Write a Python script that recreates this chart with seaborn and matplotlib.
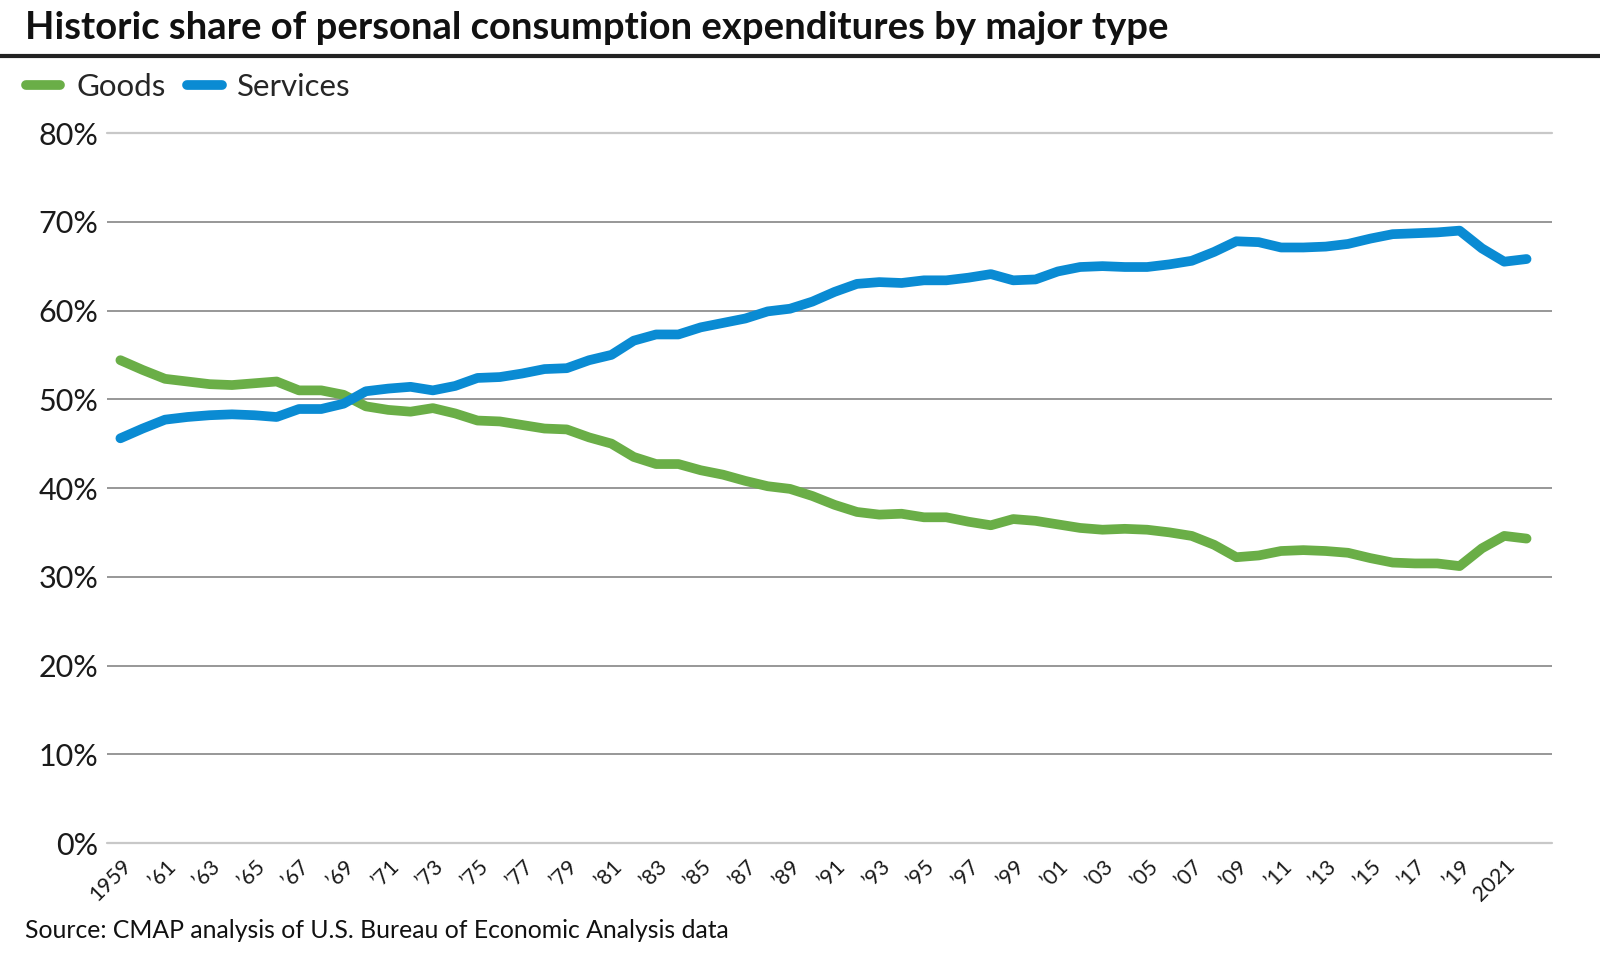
import pandas as pd
import seaborn as sns
import matplotlib.pyplot as plt
from matplotlib.lines import Line2D
from matplotlib.transforms import ScaledTranslation

# Data (share of PCE, %)
years = list(range(1959, 2023))
goods = [54.4, 53.3, 52.3, 52.0, 51.7, 51.6, 51.8, 52.0, 51.0, 51.0,
         50.5, 49.2, 48.8, 48.6, 49.0, 48.4, 47.6, 47.5, 47.1, 46.7,
         46.6, 45.7, 45.0, 43.5, 42.7, 42.7, 42.0, 41.5, 40.8, 40.2,
         39.9, 39.1, 38.1, 37.3, 37.0, 37.1, 36.7, 36.7, 36.2, 35.8,
         36.5, 36.3, 35.9, 35.5, 35.3, 35.4, 35.3, 35.0, 34.6, 33.6,
         32.2, 32.4, 32.9, 33.0, 32.9, 32.7, 32.1, 31.6, 31.5, 31.5,
         31.2, 33.2, 34.6, 34.3]
services = [45.6, 46.7, 47.7, 48.0, 48.2, 48.3, 48.2, 48.0, 48.9, 48.9,
            49.5, 50.9, 51.2, 51.4, 51.0, 51.5, 52.4, 52.5, 52.9, 53.4,
            53.5, 54.4, 55.0, 56.6, 57.3, 57.3, 58.1, 58.6, 59.1, 59.9,
            60.2, 61.0, 62.1, 63.0, 63.2, 63.1, 63.4, 63.4, 63.7, 64.1,
            63.4, 63.5, 64.4, 64.9, 65.0, 64.9, 64.9, 65.2, 65.6, 66.6,
            67.8, 67.7, 67.1, 67.1, 67.2, 67.5, 68.1, 68.6, 68.7, 68.8,
            69.0, 67.0, 65.5, 65.8]
tick_years = list(range(1959, 2022, 2))
tick_labels = ['1959'] + ['\u2019' + str(y)[2:] for y in tick_years[1:-1]] + ['2021']
y_ticks = list(range(0, 81, 10))

colors = {'Goods': '#6aae47', 'Services': '#0a8bd3'}

df = pd.DataFrame({
    'Year': years * 2,
    'Share': goods + services,
    'Type': ['Goods'] * len(years) + ['Services'] * len(years),
})

sns.set_theme(style='white')
plt.rcParams['font.family'] = ['Lato', 'DejaVu Sans']

fig = plt.figure(figsize=(16, 9.55), dpi=100)
ax = fig.add_axes([107 / 1600, 1 - 843 / 955, (1552 - 107) / 1600, (843 - 133) / 955])

sns.lineplot(data=df, x='Year', y='Share', hue='Type', palette=colors,
             linewidth=7, ax=ax, legend=False)
for line in ax.lines:
    line.set_solid_capstyle('round')
    line.set_solid_joinstyle('round')

ax.set_xlim(1959 - 0.6, 2022 + 1.14)
ax.set_ylim(0, 80)
ax.set_xlabel('')
ax.set_ylabel('')
sns.despine(ax=ax, left=True, bottom=True)

# y axis with grid
ax.set_yticks(y_ticks)
ax.set_yticklabels([f'{v}%' for v in y_ticks], fontsize=22, color='#1a1a1a')
ax.yaxis.grid(True, color='#7a7a7a', linewidth=1.1)
ax.set_axisbelow(True)
grid = ax.get_ygridlines()
for g in (grid[0], grid[-1]):
    g.set_color('#c8c8c8')
    g.set_linewidth(1.6)
    g.set_clip_on(False)
ax.tick_params(axis='y', length=0, pad=6)

# x axis labels
ax.set_xticks(tick_years)
ax.set_xticklabels(tick_labels, rotation=45, ha='right', fontsize=15.5, color='#1a1a1a')
ax.tick_params(axis='x', length=0, pad=9)
shift = ScaledTranslation(15 / 100, 0, fig.dpi_scale_trans)
for lab in ax.get_xticklabels():
    lab.set_transform(lab.get_transform() + shift)

# title, rule, legend, source
fig.text(25 / 1600, 1 - 39 / 955, 'Historic share of personal consumption expenditures by major type',
         fontsize=27.5, fontweight='bold', va='baseline', color='#111111')
fig.add_artist(Line2D([0, 1], [1 - 56 / 955] * 2, transform=fig.transFigure,
                      color='#222222', linewidth=3))

handles = [Line2D([], [], color=colors[k], linewidth=7, solid_capstyle='round') for k in colors]
ax.legend(handles, list(colors), loc='center left', bbox_to_anchor=(26 / 1600, 1 - 87 / 955),
          bbox_transform=fig.transFigure, ncol=2, frameon=False, fontsize=22.5,
          handlelength=1.1, handletextpad=0.5, columnspacing=0.7,
          borderpad=0, borderaxespad=0)

fig.text(25 / 1600, 1 - 930 / 955, 'Source: CMAP analysis of U.S. Bureau of Economic Analysis data',
         fontsize=17.8, va='center', color='#111111')

fig.savefig('out.png', dpi=100)
